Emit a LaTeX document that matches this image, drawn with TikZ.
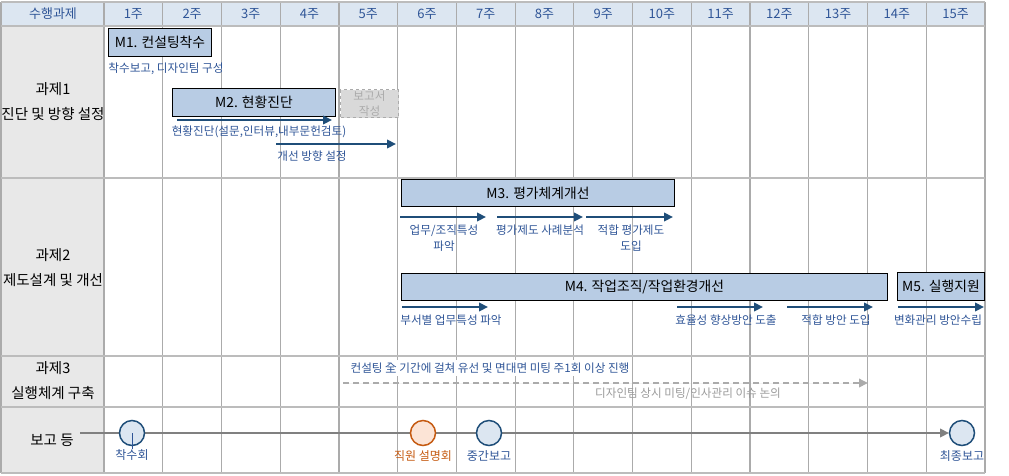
\documentclass[tikz,border=0pt]{standalone}
\usepackage{fontspec}
\setmainfont{Noto Sans CJK KR}
\usetikzlibrary{shapes,arrows,arrows.meta}
\definecolor{hdrblue}{HTML}{DCE6F1}
\definecolor{barblue}{HTML}{B8CCE4}
\definecolor{txtblue}{HTML}{2F5597}
\definecolor{arrblue}{HTML}{1F4E79}
\definecolor{leftgray}{HTML}{E8E8E8}
\definecolor{gridgray}{HTML}{ABABAB}
\definecolor{orgline}{HTML}{C55A11}
\definecolor{orgfill}{HTML}{FCE4D6}
\definecolor{rptgray}{HTML}{D9D9D9}

\begin{document}
\begin{tikzpicture}[x=1pt,y=-1pt,>={Triangle[length=9pt,width=8.5pt]},
    grid/.style={draw=gridgray, line width=1.2pt},
    hdr/.style={text=txtblue, font=\fontsize{13}{15}\selectfont, inner sep=0pt},
    task/.style={align=center, font=\fontsize{14.5}{25}\selectfont, inner sep=0pt},
    bar/.style={draw, fill=barblue, line width=0.9pt, anchor=north west, inner sep=0pt, font=\fontsize{13.8}{15}\selectfont},
    lbl/.style={text=txtblue, align=center, inner sep=0pt, font=\fontsize{11.6}{16}\selectfont},
    flow/.style={->, draw=arrblue, line width=2.4pt},
    mtg/.style={circle, draw=arrblue, fill=hdrblue, line width=1.5pt, minimum size=25pt, inner sep=0pt}]
    \useasboundingbox (0,0) rectangle (1009,475);
    % table background
    \fill[hdrblue] (1,2) rectangle (985,26);
    \fill[leftgray] (1,26) rectangle (104,473);
    \foreach \k in {0,...,15}
        \draw[grid] ({104+58.73*\k},2) -- ({104+58.73*\k},473);
    \draw[grid] (1,2) -- (1,473);
    \foreach \yy in {2,26,178,356,407,473}
        \draw[grid, draw=gridgray!80, line width=1.6pt] (1,\yy) -- (985,\yy);
    % header
    \node[hdr] (hd0) at (53,14) {수행과제};
    \foreach \k in {1,...,15}
        \node[hdr] (w\k) at ({104+58.73*(\k-0.5)},14) {{\k}주};
    % task names
    \node[task] (T1) at (53,102) {과제1\\진단 및 방향 설정};
    \node[task] (T2) at (53,268) {과제2\\제도설계 및 개선};
    \node[task] (T3) at (53,381) {과제3\\실행체계 구축};
    \node[task] (T4) at (52,440) {보고 등};
    % bars
    \node[bar, minimum width=103pt, minimum height=28pt] (M1) at (108,28) {M1. 컨설팅착수};
    \node[bar, minimum width=163pt, minimum height=28pt] (M2) at (172,88) {M2. 현황진단};
    \node[bar, minimum width=273pt, minimum height=27pt] (M3) at (401,179) {M3. 평가체계개선};
    \node[bar, minimum width=486pt, minimum height=27pt] (M4) at (401,273) {M4. 작업조직/작업환경개선};
    \node[bar, minimum width=87pt, minimum height=28pt] (M5) at (897,272) {M5. 실행지원};
    \node[bar, draw=gridgray, fill=rptgray, dashed, line width=1pt, minimum width=58pt, minimum height=28pt,
        align=center, text=gridgray, font=\fontsize{11.6}{15}\selectfont] (RP) at (340,89) {보고서\\작성};
    \node[lbl] (M1t) at (166,69) {착수보고, 디자인팀 구성};
    % step arrows
    \foreach \nm/\xa/\xb/\yy/\xc/\yc/\txt in {
        d1/177/332/120/259/132/{현황진단(설문,인터뷰,내부문헌검토)},
        d2/276/396/144/312/156/{개선 방향 설정},
        e1/400/486/217/444/238/{업무/조직특성\\파악},
        e2/497/583/217/540/230/{평가제도 사례분석},
        e3/586/673/217/631/238/{적합 평가제도\\도입},
        f1/402/488/307/451/320/{부서별 업무특성 파악},
        f2/677/763/307/726/320/{효율성 향상방안 도출},
        f3/787/873/307/836/320/{적합 방안 도입},
        f4/898/984/307/938/320/{변화관리 방안수립}}{
        \coordinate (\nm a) at (\xa,\yy);
        \coordinate (\nm b) at (\xb,\yy);
        \draw[flow] (\nm a) -- (\nm b);
        \node[lbl] (\nm t) at (\xc,\yc) {\txt};
    }
    % meetings
    \node[lbl, fill=white, inner sep=3pt] (MT) at (490,368)
        {컨설팅 全 기간에 걸쳐 유선 및 면대면 미팅 주1회 이상 진행};
    \coordinate (gs) at (343,383);
    \coordinate (ge) at (868,383);
    \draw[->, draw=gridgray, fill=gridgray, line width=1.8pt, dash pattern=on 6pt off 4pt] (gs) -- (ge);
    \node[lbl, text=gridgray!90!black] (GT) at (688,394) {디자인팀 상시 미팅/인사관리 이슈 논의};
    % report timeline
    \coordinate (tl) at (80,433);
    \coordinate (te) at (949,433);
    \draw[->, draw=gray, line width=2.2pt] (tl) -- (te);
    \node[mtg] (R1) at (132,433) {};
    \node[mtg, draw=orgline, fill=orgfill] (R2) at (423,433) {};
    \node[mtg] (R3) at (489,433) {};
    \node[mtg] (R4) at (962,433) {};
    \draw[txtblue, line width=0.5pt] (R1.center) -- (132,449);
    \node[lbl, font=\fontsize{12}{14}\selectfont] (R1t) at (132,455) {착수회};
    \node[lbl, text=orgline, font=\fontsize{12}{14}\selectfont] (R2t) at (423,456) {직원 설명회};
    \node[lbl, font=\fontsize{12}{14}\selectfont] (R3t) at (489,456) {중간보고};
    \node[lbl, font=\fontsize{12}{14}\selectfont] (R4t) at (962,456) {최종보고};
\end{tikzpicture}
\end{document}
